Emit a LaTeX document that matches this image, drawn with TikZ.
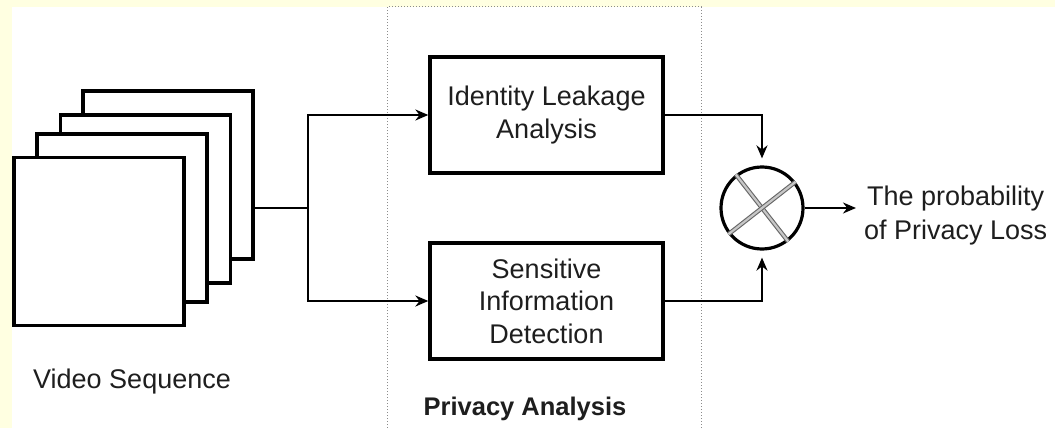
\documentclass[tikz,border=0pt]{standalone}
\usepackage{fontspec}
\setmainfont{Liberation Sans}
\usetikzlibrary{arrows.meta,calc}
\definecolor{bgyellow}{RGB}{255,255,225}
\definecolor{txt}{RGB}{30,30,30}
\tikzset{
  frame/.style={draw=black,fill=white,line width=3.3pt,minimum width=170pt,minimum height=168pt,inner sep=0pt},
  procbox/.style={draw=black,fill=white,line width=3.3pt,minimum width=233pt,minimum height=116pt,inner sep=0pt,align=center,text=txt,font=\fontsize{27}{32.5}\selectfont},
  conn/.style={line width=2.9pt},
  arr/.style={conn,-{Stealth[length=13pt,width=11pt]}},
  xline/.style={draw=black!60,double=black!22,double distance=2.2pt,line width=1.1pt},
  lbl/.style={font=\fontsize{27}{34}\selectfont,inner sep=0pt,text=txt},
  dotbox/.style={draw=black!45,line width=1pt,dash pattern=on 1pt off 2pt}
}
\begin{document}
\begin{tikzpicture}[x=1pt,y=-1pt]
\useasboundingbox (0,0) rectangle (1055,428);
\fill[bgyellow] (0,0) rectangle (1055,428);
\fill[white] (12,7) rectangle (1055,428);
% dotted region
\draw[dotbox] (387,428) -- (387,7) -- (701,7) -- (701,428);
% frames
\node[frame] (f4) at (168,175) {};
\node[frame] (f3) at (145.5,199) {};
\node[frame] (f2) at (122,218) {};
\node[frame] (f1) at (99,241.5) {};
\node[lbl,anchor=base west] (vs) at (33,388) {Video Sequence};
% process boxes
\node[procbox] (id) at (546.5,115) {Identity Leakage\\Analysis};
\node[procbox] (si) at (546.5,301) {Sensitive\\Information\\Detection};
\node[lbl,anchor=base,font=\bfseries\fontsize{25.5}{30}\selectfont] (pa) at (525,415) {Privacy Analysis};
% combiner
\node[circle,draw=black,line width=3.2pt,minimum size=82pt,inner sep=0pt,fill=white] (c) at (762,208) {};
\draw[xline] (c.128) -- (c.308);
\draw[xline] (c.38) -- (c.218);
% output label
\node[lbl,align=center,anchor=west] (out) at (864,216) {The probability\\of Privacy Loss};
\coordinate (oend) at (856,208);
% connectors
\coordinate (j) at (308,208);
\draw[conn] (j -| f4.east) -- (j);
\draw[arr] (j) |- (id.west);
\draw[arr] (j) |- (si.west);
\draw[arr,shorten >=7pt] (id.east) -| (c.north);
\draw[arr,shorten >=7pt] (si.east) -| (c.south);
\draw[arr] (c.east) -- (oend);
\end{tikzpicture}
\end{document}
